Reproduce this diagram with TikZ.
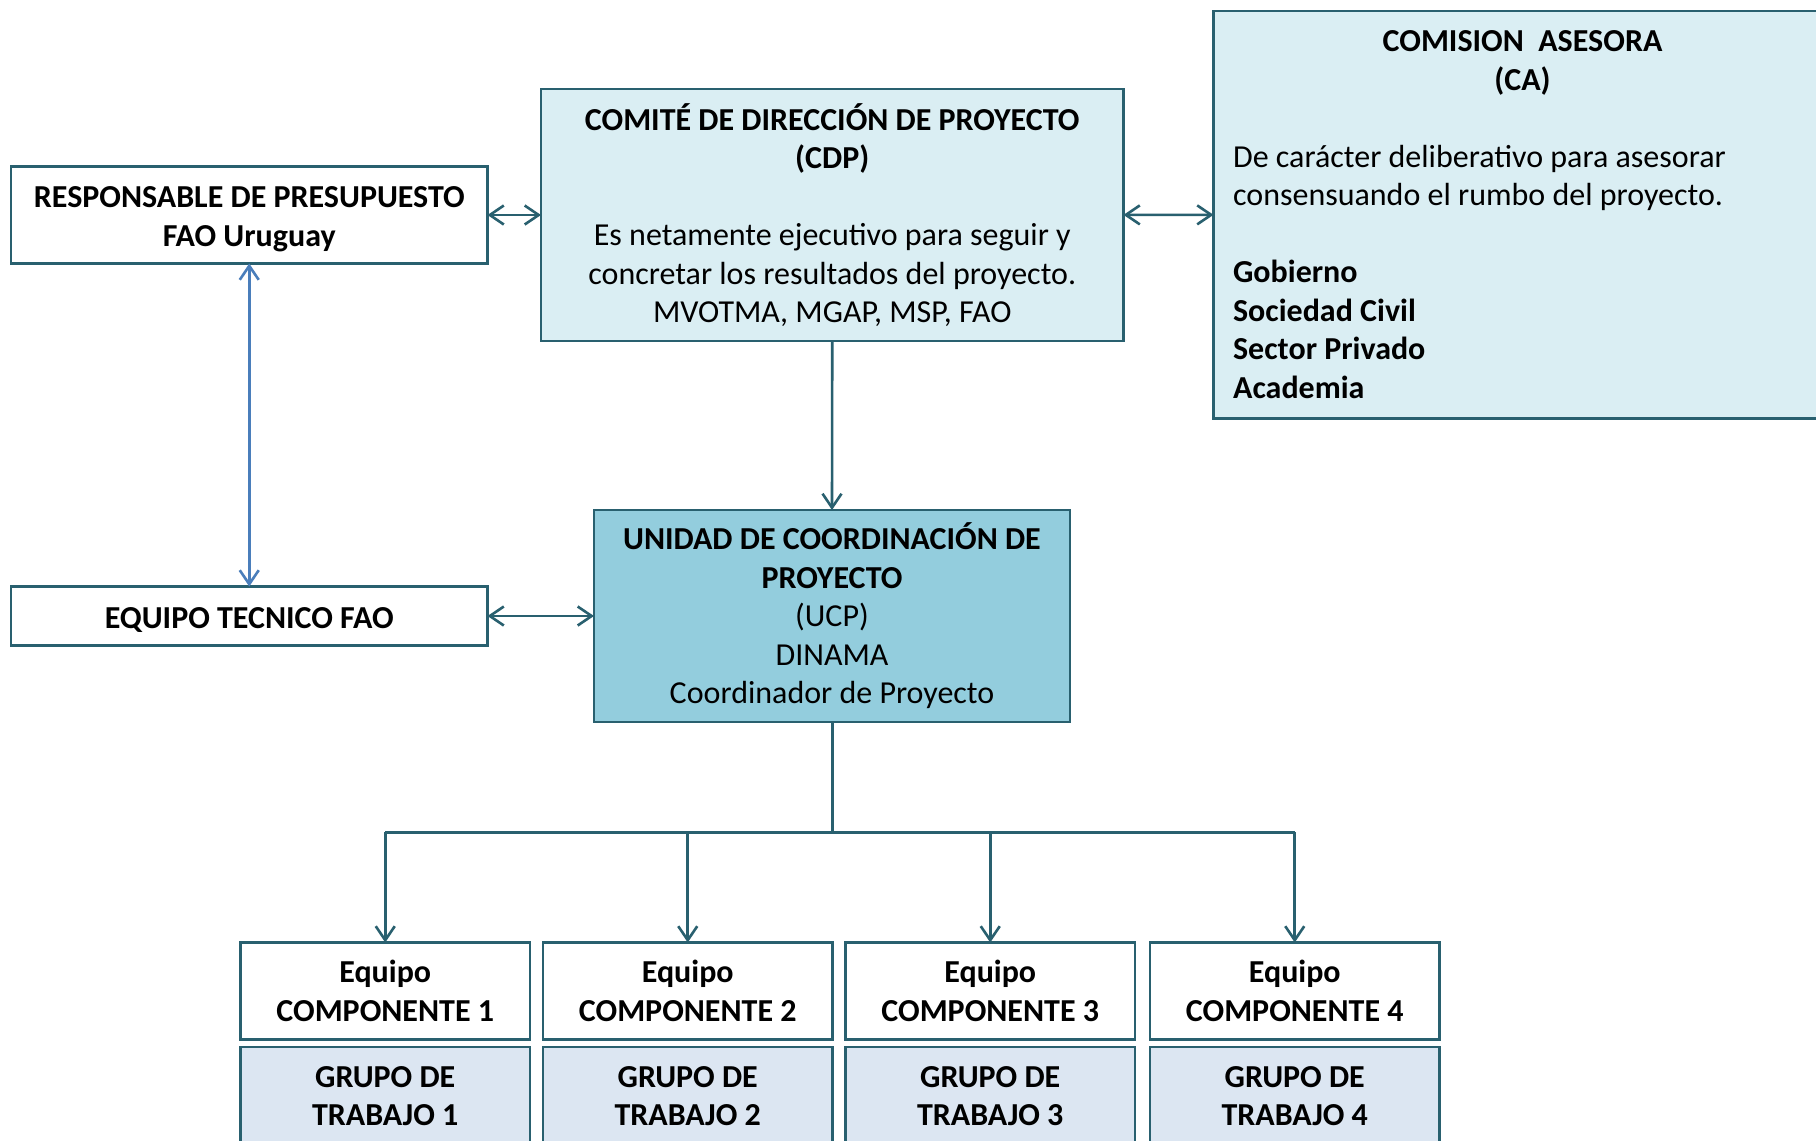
\documentclass[tikz,border=0pt]{standalone}
\usepackage{fontspec}
\setmainfont{Carlito}
\usetikzlibrary{arrows.meta}
\definecolor{bordercol}{HTML}{29606F}
\definecolor{lightaqua}{HTML}{DAEEF3}
\definecolor{midaqua}{HTML}{93CDDD}
\definecolor{grupofill}{HTML}{DCE6F2}
\definecolor{bluearrow}{HTML}{4A7EBB}
\begin{document}
\begin{tikzpicture}[x=1pt,y=-1pt,
  box/.style={draw=bordercol, line width=2.5pt, inner sep=0pt, outer sep=0pt,
    align=center, anchor=north west, text=black,
    font=\fontsize{32}{38.5}\selectfont},
  compbox/.style={box, minimum width=289.5pt, minimum height=97pt},
  grupobox/.style={box, fill=grupofill, minimum width=289.5pt, minimum height=98pt},
  conn/.style={draw=bordercol, line width=2.6pt,
    arrows={-Straight Barb[length=14pt,width=19pt]}},
  biconn/.style={draw=bordercol, line width=2.6pt,
    arrows={Straight Barb[length=14pt,width=19pt]-Straight Barb[length=14pt,width=19pt]}},
  blueconn/.style={draw=bluearrow, line width=2.6pt,
    arrows={Straight Barb[length=14pt,width=19pt]-Straight Barb[length=14pt,width=19pt]}},
  plain/.style={draw=bordercol, line width=3pt}
]
\clip (0,0) rectangle (1816,1141);
\fill[white] (0,0) rectangle (1816,1141);

\node[box, minimum width=476.5pt, minimum height=97pt] (resp) at (11,166.5)
  {\rule{0pt}{29pt}\textbf{RESPONSABLE DE PRESUPUESTO}\\\textbf{FAO Uruguay}};

\node[box, fill=lightaqua, minimum width=582.5pt, minimum height=252pt] (cdp) at (541,89)
  {\textbf{COMITÉ DE DIRECCIÓN DE PROYECTO}\\\textbf{(CDP)}\\~\\Es netamente ejecutivo para seguir y\\concretar los resultados del proyecto.\\MVOTMA, MGAP, MSP, FAO};

\node[box, fill=lightaqua, minimum width=618pt, minimum height=407.5pt, text width=578.8pt, align=flush left] (ca) at (1213.5,11)
  {\makebox[578.8pt][c]{\textbf{COMISION\ \ ASESORA}}\\\makebox[578.8pt][c]{\textbf{(CA)}}\\~\\De carácter deliberativo para asesorar\\consensuando el rumbo del proyecto.\\~\\\textbf{Gobierno}\\\textbf{Sociedad Civil}\\\textbf{Sector Privado}\\\textbf{Academia}};

\node[box, minimum width=476.5pt, minimum height=59pt] (tec) at (11,586.5)
  {\rule{0pt}{28pt}\textbf{EQUIPO TECNICO FAO}};

\node[box, fill=midaqua, minimum width=476pt, minimum height=212pt] (ucp) at (594,510)
  {\textbf{UNIDAD DE COORDINACIÓN DE}\\\textbf{PROYECTO}\\(UCP)\\DINAMA\\Coordinador de Proyecto};

\node[compbox] (c1) at (240.5,942.5) {\textbf{Equipo}\\\textbf{COMPONENTE 1}};
\node[compbox] (c2) at (543,942.5) {\textbf{Equipo}\\\textbf{COMPONENTE 2}};
\node[compbox] (c3) at (845.5,942.5) {\textbf{Equipo}\\\textbf{COMPONENTE 3}};
\node[compbox] (c4) at (1150,942.5) {\textbf{Equipo}\\\textbf{COMPONENTE 4}};

\node[grupobox] (g1) at (240.5,1047) {\textbf{GRUPO DE}\\\textbf{TRABAJO 1}};
\node[grupobox] (g2) at (543,1047) {\textbf{GRUPO DE}\\\textbf{TRABAJO 2}};
\node[grupobox] (g3) at (845.5,1047) {\textbf{GRUPO DE}\\\textbf{TRABAJO 3}};
\node[grupobox] (g4) at (1150,1047) {\textbf{GRUPO DE}\\\textbf{TRABAJO 4}};

\coordinate (bus) at (0,832);

\draw[biconn] (resp) -- (cdp);
\draw[biconn] (cdp) -- (ca);
\draw[biconn] (tec) -- (ucp);
\draw[blueconn] (resp) -- (tec);
\draw[conn] (cdp.south) -- (ucp.north);
\draw[plain] (ucp.south) -- (ucp.south |- bus);
\draw[plain] (c1.north |- bus) -- (c4.north |- bus);
\foreach \c in {c1,c2,c3,c4}{
  \draw[conn] (\c.north |- bus) -- (\c.north);
}
\end{tikzpicture}
\end{document}
